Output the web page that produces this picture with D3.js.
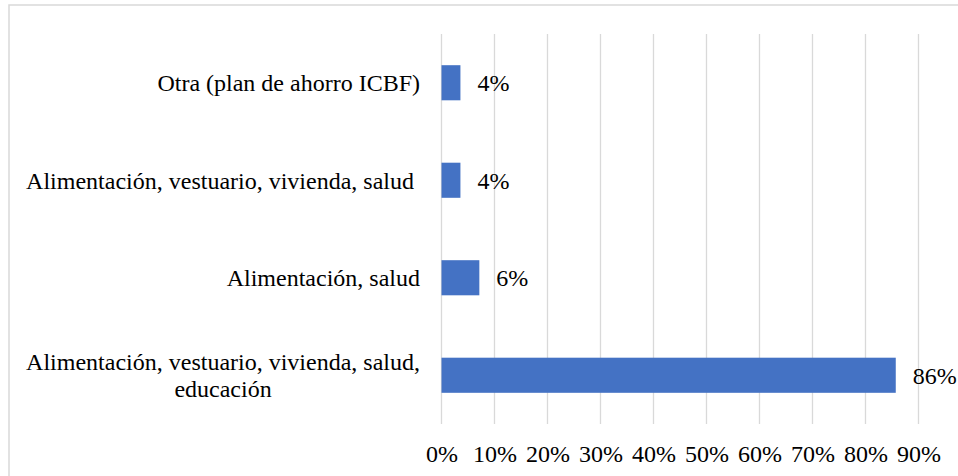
<!DOCTYPE html>
<html>
<head>
<meta charset="utf-8">
<script src="https://cdn.jsdelivr.net/npm/d3@7"></script>
<style>
  html, body { margin: 0; padding: 0; background: #fff; }
  svg { display: block; }
  svg text { font-family: "Liberation Serif", "Times New Roman", serif; fill: #000; }
</style>
</head>
<body>
<svg id="chart" width="958" height="476"></svg>
<script>
// Data (top to bottom as displayed)
const categories = [
  ["Otra (plan de ahorro ICBF)"],
  ["Alimentación, vestuario, vivienda, salud "],
  ["Alimentación, salud"],
  ["Alimentación, vestuario, vivienda, salud,", "educación"]
];
const values = [3.57, 3.57, 7.14, 85.71];
const valueLabels = ["4%", "4%", "6%", "86%"];
const tickValues = [0, 10, 20, 30, 40, 50, 60, 70, 80, 90];

const svg = d3.select("#chart");
const W = 958, H = 476;
const plot = { left: 441.5, right: 918.5, top: 34, bottom: 424 };
const fontSize = 24;

// outer border (right/bottom edges fall outside the picture)
svg.append("rect")
  .attr("x", 9).attr("y", 5)
  .attr("width", W + 20).attr("height", H + 20)
  .attr("fill", "none").attr("stroke", "#d9d9d9").attr("stroke-width", 1.5);

const x = d3.scaleLinear().domain([0, 90]).range([plot.left, plot.right]);
const y = d3.scaleBand().domain(d3.range(categories.length))
  .range([plot.top, plot.bottom]).paddingInner(0.64).paddingOuter(0.32);

// gridlines
svg.append("g")
  .selectAll("line").data(tickValues).join("line")
  .attr("x1", d => x(d)).attr("x2", d => x(d))
  .attr("y1", plot.top).attr("y2", plot.bottom)
  .attr("stroke", "#d9d9d9").attr("stroke-width", 1.3);

// x axis labels
const xAxis = d3.axisBottom(x).tickValues(tickValues)
  .tickFormat(d => d + "%").tickSize(0).tickPadding(0);
const gx = svg.append("g").attr("transform", `translate(0, ${plot.bottom})`).call(xAxis);
gx.select(".domain").remove();
gx.attr("font-family", null).attr("font-size", null);
gx.selectAll("text")
  .attr("font-size", fontSize)
  .attr("fill", "#000")
  .attr("dy", null)
  .attr("y", 38);

// bars
svg.append("g").selectAll("rect").data(values).join("rect")
  .attr("x", x(0))
  .attr("y", (d, i) => y(i))
  .attr("width", d => x(d) - x(0))
  .attr("height", y.bandwidth())
  .attr("fill", "#4472c4");

// value labels
svg.append("g").selectAll("text").data(values).join("text")
  .attr("x", d => x(d) + 17)
  .attr("y", (d, i) => y(i) + y.bandwidth() / 2)
  .attr("dy", "0.35em")
  .attr("font-size", fontSize)
  .text((d, i) => valueLabels[i]);

// category labels (multi-line centred block, right edge near axis)
const labelRight = 420;
const lineH = 27;
const cat = svg.append("g");
categories.forEach((lines, i) => {
  const cy = y(i) + y.bandwidth() / 2;
  const t = cat.append("text")
    .attr("font-size", fontSize)
    .style("white-space", "pre");
  lines.forEach(ln => t.append("tspan").text(ln));
  const spans = t.selectAll("tspan").nodes();
  const widths = spans.map(s => s.getComputedTextLength());
  const maxW = d3.max(widths);
  const cx = labelRight - maxW / 2;
  const n = lines.length;
  spans.forEach((s, j) => {
    d3.select(s)
      .attr("x", cx)
      .attr("text-anchor", "middle")
      .attr("y", cy + (j - (n - 1) / 2) * lineH)
      .attr("dy", "0.35em");
  });
});
</script>
</body>
</html>
